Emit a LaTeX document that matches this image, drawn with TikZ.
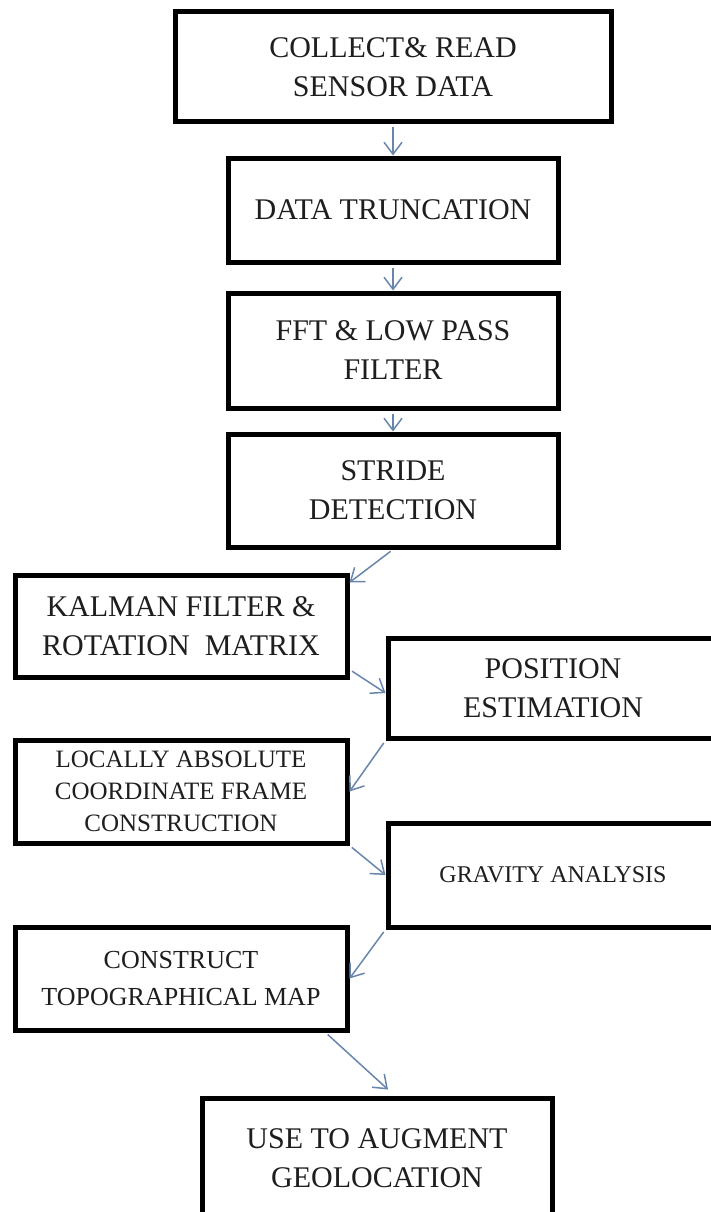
\documentclass[tikz,border=0pt]{standalone}
\usepackage{fontspec}
\setmainfont{Liberation Serif}
\usetikzlibrary{arrows.meta, positioning}
\usepackage{xcolor}
\definecolor{arrowblue}{RGB}{104,134,172}
\definecolor{inkgray}{RGB}{30,30,30}

\begin{document}
\begin{tikzpicture}[
    x=1pt, y=-1pt,
    box/.style={rectangle, draw, line width=5pt, fill=white, minimum width=330pt, minimum height=104pt, inner sep=0pt, align=center, text=inkgray, font=\fontsize{30}{39}\selectfont},
    arr/.style={-{Straight Barb[length=12pt, width=18pt]}, line width=1.5pt, draw=arrowblue, shorten <=3pt}
]
\useasboundingbox (0,0) rectangle (710,1212);

\node[box, minimum width=436pt, minimum height=110pt] (collect) at (393, 67) {COLLECT\& READ\\SENSOR DATA};
\node[box] (trunc) at (393, 210) {DATA TRUNCATION};
\node[box, minimum height=115pt] (fft) at (393, 350.5) {FFT \& LOW PASS\\FILTER};
\node[box, minimum height=113pt] (stride) at (393, 490.5) {STRIDE\\DETECTION};

\node[box, minimum width=332pt, minimum height=102pt] (kalman) at (181, 626) {KALMAN FILTER \&\\ROTATION\ \ MATRIX};
\node[box, minimum height=100pt] (position) at (553, 688) {POSITION\\ESTIMATION};
\node[box, minimum width=332pt, minimum height=103pt, font=\fontsize{25}{32}\selectfont] (locally) at (181, 791.5) {LOCALLY ABSOLUTE\\COORDINATE FRAME\\CONSTRUCTION};
\node[box, font=\fontsize{24}{32}\selectfont] (gravity) at (553, 875) {GRAVITY ANALYSIS};
\node[box, minimum width=332pt, minimum height=103pt, font=\fontsize{26}{37}\selectfont] (construct) at (181, 978.5) {CONSTRUCT\\TOPOGRAPHICAL MAP};

\node[box, minimum width=350pt, minimum height=120pt] (use) at (377, 1158) {USE TO AUGMENT\\GEOLOCATION};

\draw[arr] (collect) -- (trunc);
\draw[arr] (trunc) -- (fft);
\draw[arr] (fft) -- (stride);
\draw[arr] (stride.south) -- ([yshift=-10pt]kalman.north east);
\draw[arr] ([yshift=10pt]kalman.south east) -- ([yshift=-5pt]position.west);
\draw[arr] (position.south west) -- (locally.east);
\draw[arr] (locally.south east) -- (gravity.west);
\draw[arr] (gravity.south west) -- (construct.east);
\draw[arr] ([xshift=-24pt]construct.south east) -- ([xshift=11pt, yshift=6pt]use.north);
\end{tikzpicture}
\end{document}
